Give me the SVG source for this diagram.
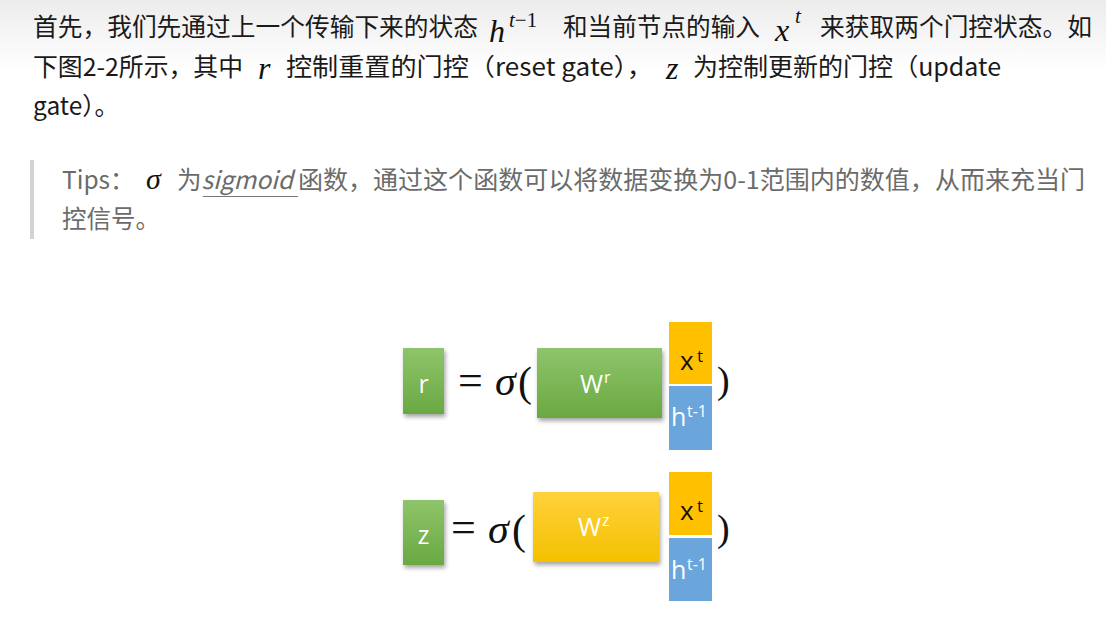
<svg xmlns="http://www.w3.org/2000/svg" width="1106" height="619" viewBox="0 0 1106 619">
<defs>
<linearGradient id="topbg" x1="0" y1="0" x2="0" y2="1"><stop offset="0" stop-color="#ececec"/><stop offset="1" stop-color="#ffffff"/></linearGradient>
<linearGradient id="green" x1="0" y1="0" x2="0" y2="1"><stop offset="0" stop-color="#8fc46a"/><stop offset="1" stop-color="#69a942"/></linearGradient>
<linearGradient id="gold" x1="0" y1="0" x2="0" y2="1"><stop offset="0" stop-color="#ffd23c"/><stop offset="1" stop-color="#f4c000"/></linearGradient>
<filter id="sh" x="-20%" y="-20%" width="140%" height="150%"><feDropShadow dx="1.5" dy="3" stdDeviation="2" flood-color="#000" flood-opacity="0.35"/></filter>
<style>
.t{font-family:"Noto Sans CJK SC","Noto Sans",sans-serif;font-size:24.5px;fill:#1a1a1a}
.g{font-family:"Noto Sans CJK SC","Noto Sans",sans-serif;font-size:24.5px;fill:#6b6b6b}
.m{font-family:"Liberation Serif","DejaVu Serif",serif;font-style:italic;fill:#111}
.bx{font-family:"Open Sans","Liberation Sans",sans-serif;fill:#fff}
.bk{font-family:"Open Sans","Liberation Sans",sans-serif;fill:#111}
.op{font-family:"Liberation Serif","DejaVu Serif",serif;fill:#111}
</style>
</defs>
<rect width="1106" height="619" fill="#fff"/>
<rect width="1106" height="70" fill="url(#topbg)"/>

<g id="paragraph">
<text class="t" x="33" y="36" textLength="445" lengthAdjust="spacingAndGlyphs">首先，我们先通过上一个传输下来的状态</text>
<text class="m" x="489" y="42" style="font-size:32px">h</text>
<text class="m" x="509" y="27" style="font-size:21px">t<tspan font-style="normal">−1</tspan></text>
<text class="t" x="563" y="36" textLength="197" lengthAdjust="spacingAndGlyphs">和当前节点的输入</text>
<text class="m" x="775" y="41" style="font-size:32px">x</text>
<text class="m" x="795" y="23" style="font-size:21px">t</text>
<text class="t" x="820" y="36" textLength="272" lengthAdjust="spacingAndGlyphs">来获取两个门控状态。如</text>

<text class="t" x="33" y="76" textLength="210" lengthAdjust="spacingAndGlyphs">下图2-2所示，其中</text>
<text class="m" x="258" y="79" style="font-size:32px">r</text>
<text class="t" x="286" y="76" textLength="367" lengthAdjust="spacingAndGlyphs">控制重置的门控（reset gate），</text>
<text class="m" x="666" y="79" style="font-size:32px">z</text>
<text class="t" x="693" y="76" textLength="308" lengthAdjust="spacingAndGlyphs">为控制更新的门控（update</text>
<text class="t" x="33" y="115">gate）。</text>
</g>

<g id="tips">
<rect x="30" y="160" width="4" height="79" fill="#d3d3d3"/>
<text class="g" x="62" y="189">Tips：</text>
<text class="m" x="146" y="189" style="font-size:30px">σ</text>
<text class="g" x="177" y="189">为<tspan font-style="italic">sigmoid</tspan></text>
<line x1="203" y1="196.5" x2="298" y2="196.5" stroke="#777" stroke-width="1"/>
<text class="g" x="298" y="189" textLength="787" lengthAdjust="spacingAndGlyphs">函数，通过这个函数可以将数据变换为0-1范围内的数值，从而来充当门</text>
<text class="g" x="62" y="228">控信号。</text>
</g>

<g id="eq-r">
<g id="node-r"><rect x="403" y="348" width="41" height="66" fill="url(#green)" filter="url(#sh)"/>
<text class="bx" x="423.5" y="393" text-anchor="middle" style="font-size:25px">r</text></g>
<text class="op" x="458" y="395" style="font-size:44px">=</text>
<text class="op" x="495" y="395" style="font-size:42px;font-style:italic">σ</text>
<text class="op" x="518" y="396" style="font-size:42px">(</text>
<g id="node-Wr"><rect x="537" y="348" width="125" height="70" fill="url(#green)" filter="url(#sh)"/>
<text class="bx" x="580" y="393" style="font-size:25px">W</text><text class="bx" x="604" y="383" style="font-size:16px">r</text></g>
<g id="node-xt1"><rect x="669" y="322" width="43" height="62" fill="#ffc000"/>
<text class="bk" x="680" y="370" style="font-size:26px">x</text><text class="bk" x="697" y="362" style="font-size:17px">t</text></g>
<g id="node-ht1"><rect x="669" y="386" width="43" height="64" fill="#6aa5dc"/>
<text class="bx" x="671" y="426" style="font-size:25px">h</text><text class="bx" x="687" y="417" style="font-size:16px">t-1</text></g>
<text class="op" x="717" y="393" style="font-size:38px">)</text>
</g>

<g id="eq-z">
<g id="node-z"><rect x="403" y="500" width="41" height="65" fill="url(#green)" filter="url(#sh)"/>
<text class="bx" x="423.5" y="544" text-anchor="middle" style="font-size:25px">z</text></g>
<text class="op" x="451" y="542" style="font-size:44px">=</text>
<text class="op" x="488" y="543" style="font-size:42px;font-style:italic">σ</text>
<text class="op" x="512" y="544" style="font-size:42px">(</text>
<g id="node-Wz"><rect x="533" y="492" width="126" height="70" fill="url(#gold)" filter="url(#sh)"/>
<text class="bx" x="578" y="536" style="font-size:25px">W</text><text class="bx" x="602" y="526" style="font-size:16px">z</text></g>
<g id="node-xt2"><rect x="669" y="472" width="43" height="63" fill="#ffc000"/>
<text class="bk" x="680" y="520" style="font-size:26px">x</text><text class="bk" x="697" y="512" style="font-size:17px">t</text></g>
<g id="node-ht2"><rect x="669" y="538" width="43" height="63" fill="#6aa5dc"/>
<text class="bx" x="671" y="579" style="font-size:25px">h</text><text class="bx" x="687" y="570" style="font-size:16px">t-1</text></g>
<text class="op" x="717" y="541" style="font-size:38px">)</text>
</g>

<g id="connectors"></g>
</svg>
